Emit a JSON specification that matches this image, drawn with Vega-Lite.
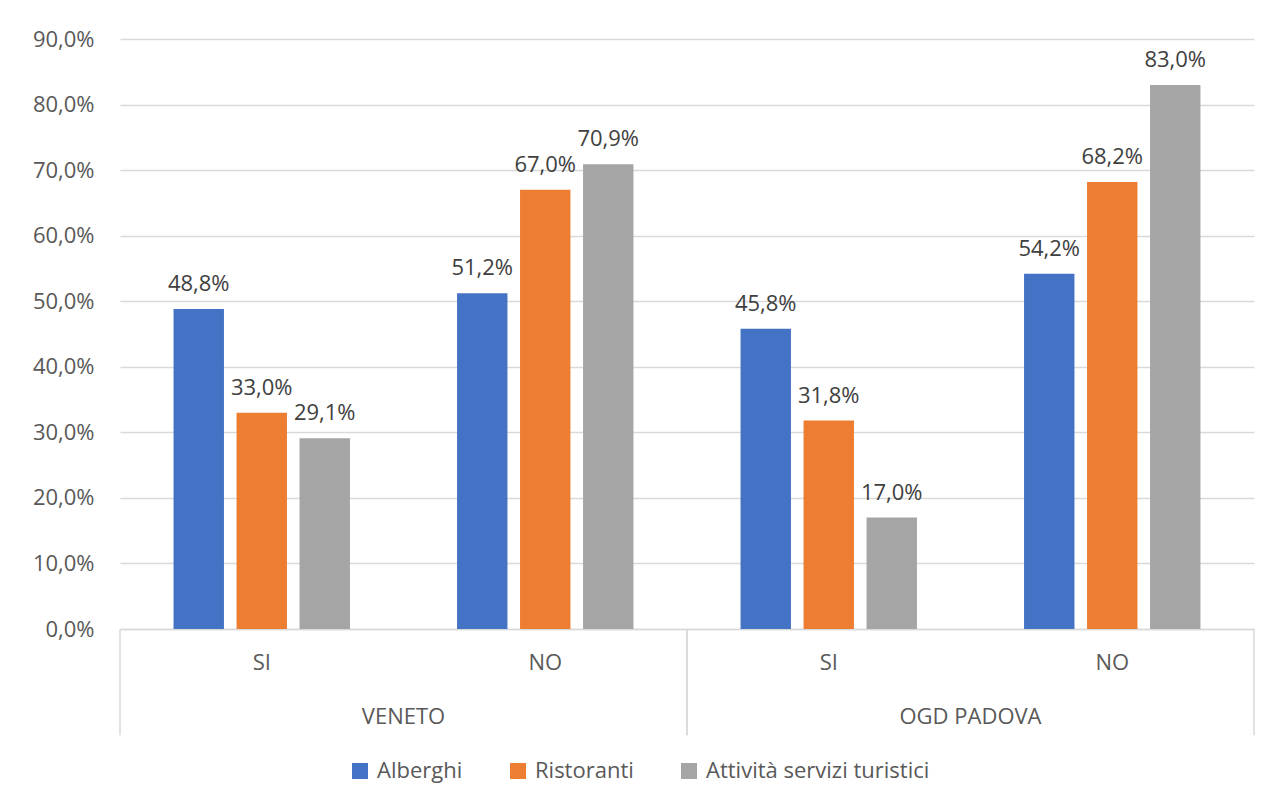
{
  "$schema": "https://vega.github.io/schema/vega-lite/v6.json",
  "width": 1134,
  "height": 590,
  "autosize": {"type": "none"},
  "padding": {"left": 120, "top": 39, "right": 20, "bottom": 176},
  "background": "white",
  "config": {
    "font": "Open Sans",
    "locale": {
      "number": {"decimal": ",", "thousands": ".", "grouping": [3], "currency": ["", " €"]}
    },
    "view": {"stroke": null},
    "axis": {"labelFont": "Open Sans", "labelColor": "#595959", "labelFontSize": 22},
    "legend": {"labelFont": "Open Sans"}
  },
  "data": {
    "values": [
      {"region": "VENETO", "answer": "SI", "group": "VENETO SI", "series": "Alberghi", "value": 0.488},
      {"region": "VENETO", "answer": "SI", "group": "VENETO SI", "series": "Ristoranti", "value": 0.330},
      {"region": "VENETO", "answer": "SI", "group": "VENETO SI", "series": "Attività servizi turistici", "value": 0.291},
      {"region": "VENETO", "answer": "NO", "group": "VENETO NO", "series": "Alberghi", "value": 0.512},
      {"region": "VENETO", "answer": "NO", "group": "VENETO NO", "series": "Ristoranti", "value": 0.670},
      {"region": "VENETO", "answer": "NO", "group": "VENETO NO", "series": "Attività servizi turistici", "value": 0.709},
      {"region": "OGD PADOVA", "answer": "SI", "group": "OGD PADOVA SI", "series": "Alberghi", "value": 0.458},
      {"region": "OGD PADOVA", "answer": "SI", "group": "OGD PADOVA SI", "series": "Ristoranti", "value": 0.318},
      {"region": "OGD PADOVA", "answer": "SI", "group": "OGD PADOVA SI", "series": "Attività servizi turistici", "value": 0.170},
      {"region": "OGD PADOVA", "answer": "NO", "group": "OGD PADOVA NO", "series": "Alberghi", "value": 0.542},
      {"region": "OGD PADOVA", "answer": "NO", "group": "OGD PADOVA NO", "series": "Ristoranti", "value": 0.682},
      {"region": "OGD PADOVA", "answer": "NO", "group": "OGD PADOVA NO", "series": "Attività servizi turistici", "value": 0.830}
    ]
  },
  "encoding": {
    "x": {
      "field": "group",
      "type": "nominal",
      "sort": null,
      "scale": {"paddingInner": 0, "paddingOuter": 0},
      "axis": {
        "title": null,
        "labelAngle": 0,
        "labelExpr": "peek(split(datum.label, ' '))",
        "ticks": false,
        "labelPadding": 23,
        "domainColor": "#d9d9d9",
        "domainWidth": 1.5,
        "grid": false
      }
    }
  },
  "layer": [
    {
      "mark": {"type": "bar"},
      "encoding": {
        "xOffset": {
          "field": "series",
          "type": "nominal",
          "sort": ["Alberghi", "Ristoranti", "Attività servizi turistici"],
          "scale": {"paddingInner": 0.2, "paddingOuter": 0.85}
        },
        "y": {
          "field": "value",
          "type": "quantitative",
          "scale": {"domain": [0, 0.9], "nice": false},
          "axis": {
            "title": null,
            "values": [0, 0.1, 0.2, 0.3, 0.4, 0.5, 0.6, 0.7, 0.8, 0.9],
            "format": ".1%",
            "labelOverlap": false,
            "ticks": false,
            "domain": false,
            "labelPadding": 26,
            "gridColor": "#d9d9d9",
            "gridWidth": 1.5
          }
        },
        "color": {
          "field": "series",
          "type": "nominal",
          "scale": {
            "domain": ["Alberghi", "Ristoranti", "Attività servizi turistici"],
            "range": ["#4472c4", "#ed7d31", "#a5a5a5"]
          },
          "legend": {
            "title": null,
            "orient": "none",
            "direction": "horizontal",
            "legendX": 229,
            "legendY": 721,
            "symbolType": "square",
            "symbolSize": 256,
            "symbolStrokeWidth": 0,
            "labelFontSize": 22,
            "labelColor": "#595959",
            "labelLimit": 0,
            "labelOffset": 6,
            "columnPadding": 44
          }
        }
      }
    },
    {
      "mark": {"type": "text", "baseline": "bottom", "dy": -13, "fontSize": 22, "color": "#404040"},
      "encoding": {
        "xOffset": {
          "field": "series",
          "type": "nominal",
          "sort": ["Alberghi", "Ristoranti", "Attività servizi turistici"],
          "scale": {"paddingInner": 0.2, "paddingOuter": 0.85}
        },
        "y": {"field": "value", "type": "quantitative"},
        "text": {"field": "value", "type": "quantitative", "format": ".1%"}
      }
    },
    {
      "transform": [{"filter": "datum.series === 'Alberghi' && datum.answer === 'NO'"}],
      "mark": {"type": "text", "baseline": "middle", "fontSize": 22, "color": "#595959"},
      "encoding": {
        "x": {"field": "group", "type": "nominal", "sort": null, "bandPosition": 0},
        "y": {"datum": -0.134},
        "text": {"field": "region"}
      }
    },
    {
      "transform": [{"filter": "datum.series === 'Alberghi' && datum.answer === 'SI'"}],
      "mark": {"type": "rule", "color": "#d9d9d9", "strokeWidth": 1.5},
      "encoding": {
        "x": {"field": "group", "type": "nominal", "sort": null, "bandPosition": 0},
        "y": {"datum": 0},
        "y2": {"datum": -0.162}
      }
    },
    {
      "transform": [{"filter": "datum.series === 'Alberghi' && datum.answer === 'NO'"}],
      "mark": {"type": "rule", "color": "#d9d9d9", "strokeWidth": 1.5},
      "encoding": {
        "x": {"field": "group", "type": "nominal", "sort": null, "bandPosition": 1},
        "y": {"datum": 0},
        "y2": {"datum": -0.162}
      }
    }
  ]
}
